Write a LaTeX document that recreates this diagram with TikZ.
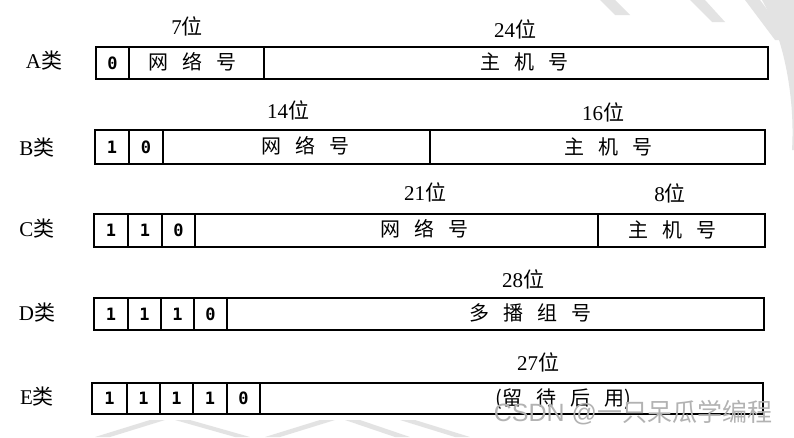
\documentclass[tikz,border=0pt]{standalone}
\usepackage{fontspec}
\setmainfont{Liberation Serif}
\newfontfamily\cjk{Noto Sans CJK SC}
\newfontfamily\bitfont{DejaVu Sans Mono}
\newfontfamily\wmfont{Liberation Sans}
\newcommand{\cj}[1]{{\cjk #1}}
\newcommand{\gapc}{\hspace{14pt}}
\begin{document}
\begin{tikzpicture}[x=1pt,y=-1pt,
  fld/.style={draw, line width=1.8pt, inner sep=0pt, anchor=north west},
  bitcell/.style={fld, font=\bitfont\bfseries\fontsize{17}{17}\selectfont},
  fldtext/.style={font=\cjk\fontsize{20}{23}\selectfont, inner sep=0pt},
  cls/.style={font=\fontsize{21}{24}\selectfont, inner sep=0pt},
  wid/.style={font=\fontsize{21}{24}\selectfont, inner sep=0pt},
  wm/.style={fill=black!11, draw=none},
]
\useasboundingbox (0,0) rectangle (794,437);
\fill[white] (0,0) rectangle (794,437);
% faint background decoration
\begin{scope}
\clip (0,0) rectangle (794,437);
\fill[wm] (762,0) .. controls (785,40) and (795,100) .. (792,150) -- (794,150) -- (794,0) -- cycle;
\fill[wm] (690,0) -- (705,0) -- (725,22) -- (712,22) -- cycle;
\fill[wm] (745,0) -- (760,0) -- (790,40) -- (775,40) -- cycle;
\fill[wm] (600,0) -- (615,0) -- (630,15) -- (615,15) -- cycle;
\fill[wm] (95,437) -- (150,420) -- (165,420) -- (110,437) -- cycle;
\fill[wm] (175,420) -- (190,420) -- (250,437) -- (235,437) -- cycle;
\fill[wm] (265,437) -- (320,420) -- (335,420) -- (280,437) -- cycle;
\fill[wm] (345,420) -- (360,420) -- (410,437) -- (395,437) -- cycle;
\fill[wm] (400,420) -- (415,420) -- (470,437) -- (455,437) -- cycle;
\end{scope}

% class labels
\node[cls] (la) at (44,61) {A\cj{类}};
\node[cls] (lb) at (37,148) {B\cj{类}};
\node[cls] (lc) at (37,229) {C\cj{类}};
\node[cls] (ld) at (37,313) {D\cj{类}};
\node[cls] (le) at (37,397) {E\cj{类}};

% width labels
\node[wid] (wa1) at (187,26) {7\cj{位}};
\node[wid] (wa2) at (515,29) {24\cj{位}};
\node[wid] (wb1) at (288,110) {14\cj{位}};
\node[wid] (wb2) at (603,112) {16\cj{位}};
\node[wid] (wc1) at (425,192) {21\cj{位}};
\node[wid] (wc2) at (670,193) {8\cj{位}};
\node[wid] (wd1) at (523,279) {28\cj{位}};
\node[wid] (we1) at (538,362) {27\cj{位}};

% Row A
\node[bitcell, minimum width=33pt, minimum height=32pt] (a0) at (95,46) {0};
\node[fld, minimum width=135pt, minimum height=32pt] (anet) at (128,46) {};
\node[fld, minimum width=504pt, minimum height=32pt] (ahost) at (263,46) {};
\node[fldtext] (anett) at (192,62) {网\gapc 络\gapc 号};
\node[fldtext] (ahostt) at (524,62) {主\gapc 机\gapc 号};

% Row B
\node[bitcell, minimum width=34pt, minimum height=34pt] (b0) at (94,129) {1};
\node[bitcell, minimum width=34pt, minimum height=34pt] (b1) at (128,129) {0};
\node[fld, minimum width=267pt, minimum height=34pt] (bnet) at (162,129) {};
\node[fld, minimum width=335pt, minimum height=34pt] (bhost) at (429,129) {};
\node[fldtext] (bnett) at (305,146) {网\gapc 络\gapc 号};
\node[fldtext] (bhostt) at (608,147) {主\gapc 机\gapc 号};

% Row C
\node[bitcell, minimum width=34pt, minimum height=33pt] (c0) at (93,213) {1};
\node[bitcell, minimum width=34pt, minimum height=33pt] (c1) at (127,213) {1};
\node[bitcell, minimum width=33pt, minimum height=33pt] (c2) at (161,213) {0};
\node[fld, minimum width=403pt, minimum height=33pt] (cnet) at (194,213) {};
\node[fld, minimum width=167pt, minimum height=33pt] (chost) at (597,213) {};
\node[fldtext] (cnett) at (424,229) {网\gapc 络\gapc 号};
\node[fldtext] (chostt) at (672,230) {主\gapc 机\gapc 号};

% Row D
\node[bitcell, minimum width=34pt, minimum height=32pt] (d0) at (93,297) {1};
\node[bitcell, minimum width=33pt, minimum height=32pt] (d1) at (127,297) {1};
\node[bitcell, minimum width=33pt, minimum height=32pt] (d2) at (160,297) {1};
\node[bitcell, minimum width=33pt, minimum height=32pt] (d3) at (193,297) {0};
\node[fld, minimum width=537pt, minimum height=32pt] (dgrp) at (226,297) {};
\node[fldtext] (dgrpt) at (530,313) {多\gapc 播\gapc 组\gapc 号};

% Row E
\node[bitcell, minimum width=35pt, minimum height=31pt] (e0) at (91,382) {1};
\node[bitcell, minimum width=33pt, minimum height=31pt] (e1) at (126,382) {1};
\node[bitcell, minimum width=33pt, minimum height=31pt] (e2) at (159,382) {1};
\node[bitcell, minimum width=34pt, minimum height=31pt] (e3) at (192,382) {1};
\node[bitcell, minimum width=33pt, minimum height=31pt] (e4) at (226,382) {0};
\node[fld, minimum width=503pt, minimum height=31pt] (eres) at (259,382) {};
\node[fldtext] (erest) at (563,399) {(留\gapc 待\gapc 后\gapc 用)};

% watermark
\node[inner sep=0pt, text=black!30, font=\wmfont\fontsize{25}{28}\selectfont] (wmk) at (633,413) {CSDN @\cj{一只呆瓜学编程}};
\end{tikzpicture}
\end{document}
